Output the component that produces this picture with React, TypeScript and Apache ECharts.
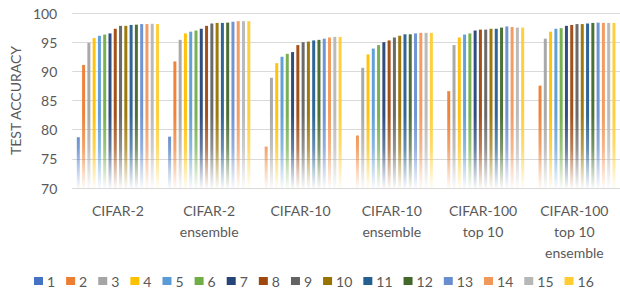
import React, { useEffect, useRef } from "react";
import * as echarts from "echarts";

const categories = [
  "CIFAR-2",
  "CIFAR-2\nensemble",
  "CIFAR-10",
  "CIFAR-10\nensemble",
  "CIFAR-100\ntop 10",
  "CIFAR-100\ntop 10\nensemble",
];

const seriesNames = ["1", "2", "3", "4", "5", "6", "7", "8", "9", "10", "11", "12", "13", "14", "15", "16"];

const colors = [
  "#4472C4", "#ED7D31", "#A5A5A5", "#FFC000", "#5B9BD5", "#70AD47", "#264478", "#9E480E",
  "#636363", "#997300", "#255E91", "#43682B", "#698ED0", "#F1975A", "#B7B7B7", "#FFCD33",
];

// values per category (rows) for series 1..16 (columns)
const cifar2 = [78.7, 91.1, 94.9, 95.7, 96.1, 96.3, 96.5, 97.3, 97.8, 97.8, 97.95, 98.0, 98.1, 98.1, 98.15, 98.1];
const cifar2Ens = [78.8, 91.7, 95.4, 96.5, 96.8, 97.0, 97.3, 97.8, 98.2, 98.3, 98.3, 98.35, 98.5, 98.6, 98.6, 98.6];
const cifar10 = [null, 77.1, 88.9, 91.4, 92.5, 93.0, 93.3, 94.5, 95.0, 95.1, 95.3, 95.4, 95.6, 95.8, 95.9, 95.9];
const cifar10Ens = [null, 79.0, 90.6, 92.9, 93.9, 94.5, 95.0, 95.3, 95.8, 96.1, 96.35, 96.35, 96.5, 96.6, 96.6, 96.6];
const cifar100Top10 = [null, 86.6, 94.5, 95.8, 96.3, 96.5, 97.0, 97.15, 97.15, 97.3, 97.3, 97.5, 97.7, 97.6, 97.5, 97.5];
const cifar100Top10Ens = [null, 87.55, 95.6, 96.8, 97.3, 97.4, 97.8, 97.95, 98.1, 98.1, 98.2, 98.3, 98.35, 98.3, 98.3, 98.3];

const groups = [cifar2, cifar2Ens, cifar10, cifar10Ens, cifar100Top10, cifar100Top10Ens];

const yTicks = { min: 70, max: 100, interval: 5 };

function hexToRgba(hex: string, a: number) {
  const n = parseInt(hex.slice(1), 16);
  return `rgba(${(n >> 16) & 255},${(n >> 8) & 255},${n & 255},${a})`;
}

const FONT = "Lato";
const TEXT = "#595959";

export default function App() {
  const ref = useRef<HTMLDivElement>(null);
  useEffect(() => {
    if (!ref.current) return;
    const chart = echarts.init(ref.current, null, { renderer: "svg" });
    const series = seriesNames.map((name, i) => ({
      name,
      type: "bar",
      barWidth: 3,
      barGap: "76%",
      data: groups.map((g) => g[i]),
      itemStyle: {
        color: new echarts.graphic.LinearGradient(
          0, 115, 0, 190,
          [
            { offset: 0, color: hexToRgba(colors[i], 0.95) },
            { offset: 0.45, color: hexToRgba(colors[i], 0.7) },
            { offset: 1, color: hexToRgba(colors[i], 0) },
          ],
          true
        ),
      },
    }));
    chart.setOption({
      animation: false,
      grid: { left: 69, top: 13, width: 554, height: 175 },
      legend: {
        bottom: 0,
        padding: 0,
        left: 34,
        itemWidth: 9,
        itemHeight: 8,
        itemGap: 11,
        textStyle: { fontFamily: FONT, fontSize: 14, color: TEXT, padding: [0, 0, 0, -1] },
        data: seriesNames.map((n, i) => ({ name: n, icon: "rect", itemStyle: { color: colors[i] } })),
      },
      xAxis: {
        type: "category",
        data: categories,
        axisLine: { lineStyle: { color: "#d9d9d9" } },
        axisTick: { show: false },
        axisLabel: {
          fontFamily: FONT,
          fontSize: 14,
          color: TEXT,
          lineHeight: 21,
          margin: 12,
          interval: 0,
        },
      },
      yAxis: {
        type: "value",
        min: yTicks.min,
        max: yTicks.max,
        interval: yTicks.interval,
        name: "TEST ACCURACY",
        nameLocation: "middle",
        nameGap: 43,
        nameTextStyle: { fontFamily: FONT, fontSize: 14, color: TEXT },
        axisLine: { show: false },
        axisTick: { show: false },
        splitLine: { lineStyle: { color: "#d9d9d9" } },
        axisLabel: { fontFamily: FONT, fontSize: 14, color: TEXT, margin: 15 },
      },
      series,
    });
    return () => chart.dispose();
  }, []);
  return <div ref={ref} style={{ width: 620, height: 288, position: "absolute", left: 0, top: 0 }} />;
}
